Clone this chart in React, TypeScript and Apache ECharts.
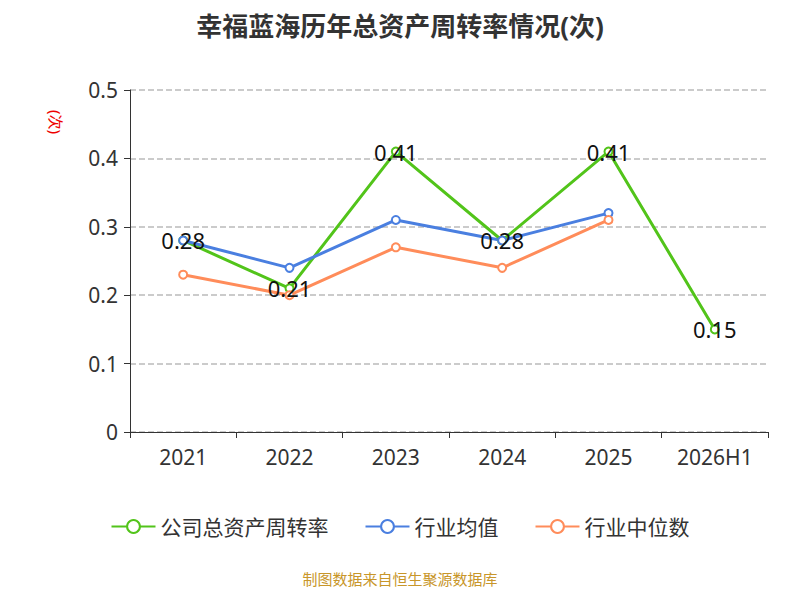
import React, { useEffect, useRef } from "react";
import * as echarts from "echarts";

const years = ["2021", "2022", "2023", "2024", "2025", "2026H1"];
const companyTurnover = [0.28, 0.21, 0.41, 0.28, 0.41, 0.15];
const industryAvg = [0.28, 0.24, 0.31, 0.28, 0.32, null];
const industryMedian = [0.23, 0.2, 0.27, 0.24, 0.31, null];

const App: React.FC = () => {
  const chartRef = useRef<HTMLDivElement>(null);

  useEffect(() => {
    if (!chartRef.current) return;
    const chart = echarts.init(chartRef.current, null, { renderer: "svg" });
    const font = "'Noto Sans', 'Noto Sans CJK SC', sans-serif";

    const option = {
      animation: false,
      textStyle: { fontFamily: font },
      title: {
        text: "幸福蓝海历年总资产周转率情况(次)",
        left: "center",
        top: 0,
        textStyle: { fontSize: 26, fontWeight: "bold", color: "#333" },
      },
      grid: { left: 122, right: 24, top: 82, bottom: 168 },
      legend: {
        bottom: 58,
        itemWidth: 44,
        itemHeight: 16,
        itemGap: 36,
        textStyle: { fontSize: 21, color: "#333" },
        data: ["公司总资产周转率", "行业均值", "行业中位数"],
      },
      graphic: [
        {
          type: "text",
          x: 56,
          y: 102,
          rotation: -Math.PI / 2,
          style: { text: "(次)", fill: "#e00", fontSize: 15, fontFamily: font },
        },
        {
          type: "text",
          left: "center",
          top: 563,
          style: { text: "制图数据来自恒生聚源数据库", fill: "#c8962a", fontSize: 15, fontFamily: font },
        },
      ],
      xAxis: {
        type: "category",
        data: years,
        boundaryGap: true,
        axisLine: { lineStyle: { color: "#333" } },
        axisTick: { show: true, length: 6 },
        axisLabel: { fontSize: 21, color: "#333", margin: 14 },
      },
      yAxis: {
        type: "value",
        min: 0,
        max: 0.5,
        interval: 0.1,
        axisLine: { show: true, lineStyle: { color: "#333" } },
        axisTick: { show: true, length: 6 },
        axisLabel: { fontSize: 21, color: "#333", margin: 12 },
        splitLine: { lineStyle: { type: "dashed", color: "#bbb", width: 1.5 } },
      },
      series: [
        {
          name: "公司总资产周转率",
          type: "line",
          data: companyTurnover,
          symbol: "emptyCircle",
          symbolSize: 8,
          lineStyle: { width: 3, color: "#52c41a" },
          itemStyle: { color: "#52c41a" },
          label: { show: true, position: "inside", fontSize: 22, color: "#111" },
          z: 3,
        },
        {
          name: "行业均值",
          type: "line",
          data: industryAvg,
          symbol: "emptyCircle",
          symbolSize: 8,
          lineStyle: { width: 3, color: "#4a7fe0" },
          itemStyle: { color: "#4a7fe0" },
        },
        {
          name: "行业中位数",
          type: "line",
          data: industryMedian,
          symbol: "emptyCircle",
          symbolSize: 8,
          lineStyle: { width: 3, color: "#ff8c5a" },
          itemStyle: { color: "#ff8c5a" },
        },
      ],
    };

    chart.setOption(option);
    return () => chart.dispose();
  }, []);

  return <div ref={chartRef} style={{ width: 784, height: 592 }} />;
};

export default App;
